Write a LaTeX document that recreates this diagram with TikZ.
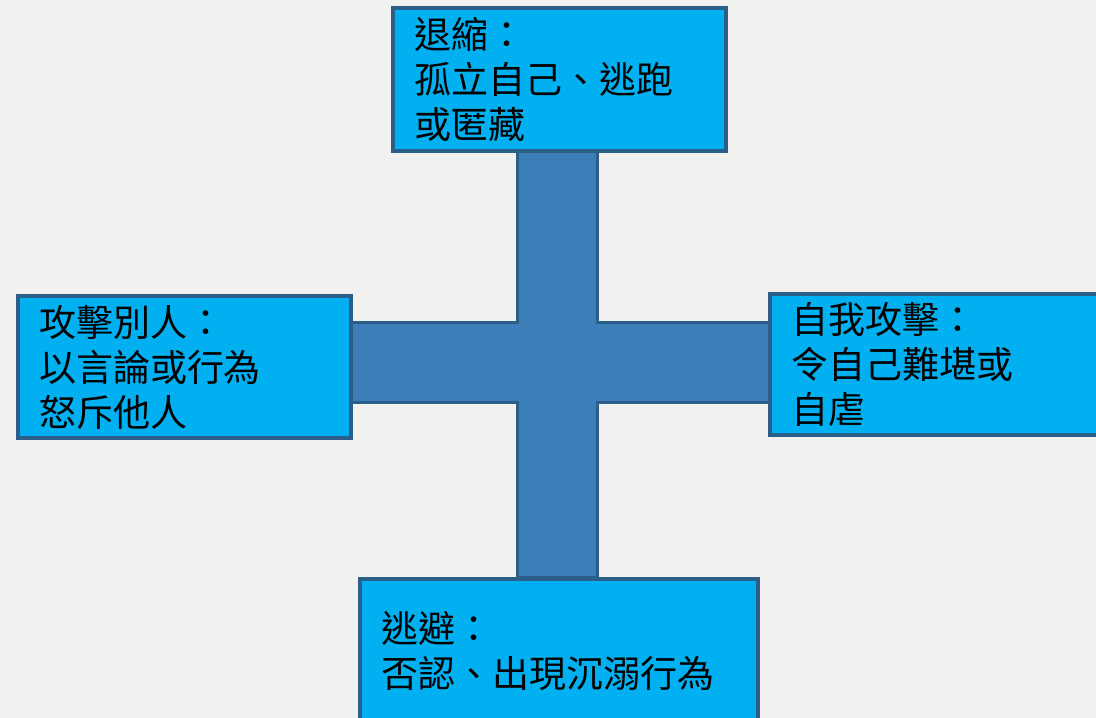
\documentclass[tikz,border=0pt]{standalone}
\usepackage{fontspec}
\newfontfamily\cjk{Noto Sans CJK TC}
\definecolor{bgcol}{HTML}{F1F1F0}
\definecolor{boxfill}{HTML}{00B0F0}
\definecolor{boxline}{HTML}{2C5E8A}
\definecolor{crossfill}{HTML}{3B7EB8}
\begin{document}
\begin{tikzpicture}[x=1pt,y=-1pt,
  box/.style={draw=boxline, line width=4pt, fill=boxfill, inner xsep=21pt, inner ysep=0pt,
    align=left, anchor=north west, text=black,
    font=\cjk\fontsize{37}{45}\selectfont},
  crossshape/.style={draw=boxline, line width=3pt, fill=crossfill, line join=miter}]
\useasboundingbox (0,0) rectangle (1096,718);
\clip (0,0) rectangle (1096,718);
\fill[bgcol] (0,0) rectangle (1096,718);
% cross
\coordinate (c1) at (517,149);
\coordinate (c2) at (597,149);
\coordinate (c3) at (597,322);
\coordinate (c4) at (770,322);
\coordinate (c5) at (770,402);
\coordinate (c6) at (597,402);
\coordinate (c7) at (597,577);
\coordinate (c8) at (517,577);
\coordinate (c9) at (517,402);
\coordinate (c10) at (345,402);
\coordinate (c11) at (345,322);
\coordinate (c12) at (517,322);
\draw[crossshape] (c1) -- (c2) -- (c3) -- (c4) -- (c5) -- (c6) -- (c7) -- (c8) -- (c9) -- (c10) -- (c11) -- (c12) -- cycle;
% boxes
\node[box, text width=291pt, minimum height=143pt] (top) at (391,6) {退縮：\\孤立自己、逃跑\\或匿藏};
\node[box, text width=291pt, minimum height=142pt] (left) at (16,294) {攻擊別人：\\以言論或行為\\怒斥他人};
\node[box, text width=303pt, minimum height=141pt] (right) at (768,292) {自我攻擊：\\令自己難堪或\\自虐};
\node[box, text width=356pt, minimum height=145pt] (bottom) at (358,577) {逃避：\\否認、出現沉溺行為};
\end{tikzpicture}
\end{document}
